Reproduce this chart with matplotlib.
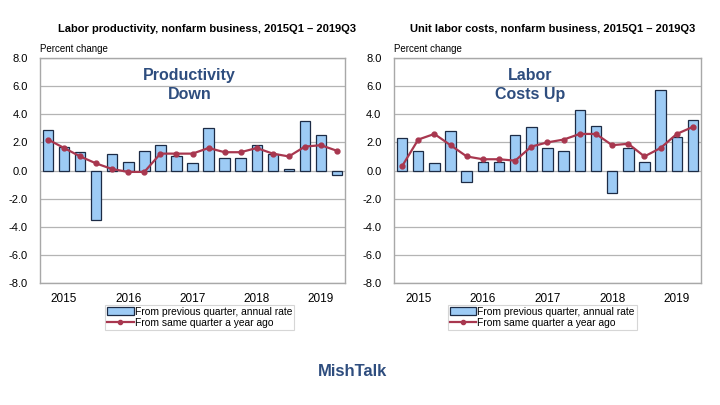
import matplotlib
matplotlib.use("Agg")
import matplotlib.pyplot as plt
from matplotlib.patches import Patch
from matplotlib.lines import Line2D

plt.rcParams["font.family"] = ["Liberation Sans", "DejaVu Sans"]

quarters = ["2015Q1", "2015Q2", "2015Q3", "2015Q4",
            "2016Q1", "2016Q2", "2016Q3", "2016Q4",
            "2017Q1", "2017Q2", "2017Q3", "2017Q4",
            "2018Q1", "2018Q2", "2018Q3", "2018Q4",
            "2019Q1", "2019Q2", "2019Q3"]
years = ["2015", "2016", "2017", "2018", "2019"]

prod_qoq = [2.9, 1.7, 1.3, -3.5, 1.2, 0.6, 1.4, 1.8, 1.0, 0.5,
            3.0, 0.9, 0.9, 1.8, 1.2, 0.1, 3.5, 2.5, -0.3]
prod_yoy = [2.2, 1.6, 1.0, 0.5, 0.1, -0.1, -0.1, 1.2, 1.2, 1.2,
            1.6, 1.3, 1.3, 1.6, 1.2, 1.0, 1.7, 1.8, 1.4]

ulc_qoq = [2.3, 1.4, 0.5, 2.8, -0.8, 0.6, 0.6, 2.5, 3.1, 1.6,
           1.4, 4.3, 3.2, -1.6, 1.6, 0.6, 5.7, 2.4, 3.6]
ulc_yoy = [0.3, 2.2, 2.6, 1.8, 1.0, 0.8, 0.8, 0.7, 1.7, 2.0,
           2.2, 2.6, 2.6, 1.8, 1.9, 1.0, 1.6, 2.6, 3.1]

bar_color = "#9dcbf5"
edge_color = "#1c2b45"
line_color = "#a8374f"
note_color = "#2e4d7e"
grid_color = "#b4b4b4"

fig = plt.figure(figsize=(7.2, 4.05), dpi=100)


def panel(rect, qoq, yoy, title, title_x, note, note_x, legend_box):
    ax = fig.add_axes(rect)
    x = list(range(len(quarters)))
    ax.bar(x, qoq, width=0.65, color=bar_color, edgecolor=edge_color,
           linewidth=0.9, zorder=2)
    ax.plot(x, yoy, color=line_color, linewidth=1.6, marker="o",
            markersize=3.5, zorder=3)
    ax.set_xlim(-0.5, len(quarters) - 0.5)
    ax.set_ylim(-8, 8)
    ax.set_yticks(range(-8, 9, 2))
    ax.set_yticklabels([f"{v:.1f}" for v in range(-8, 9, 2)], fontsize=8)
    ax.set_xticks([1, 5, 9, 13, 17])
    ax.set_xticklabels(years, fontsize=8.5)
    ax.tick_params(axis="both", length=0, pad=9)
    ax.tick_params(axis="x", pad=7)
    ax.grid(axis="y", color=grid_color, linewidth=0.9, zorder=0)
    for s in ax.spines.values():
        s.set_color("#a8a8a8")
        s.set_linewidth(1.0)
    fig.text(title_x, 0.928, title, fontsize=8, fontweight="bold",
             ha="center", va="center")
    fig.text(rect[0], 0.879, "Percent change", fontsize=7,
             ha="left", va="center")
    fig.text(note_x, 0.790, note, fontsize=11.5, fontweight="bold",
             color=note_color, ha="center", va="center", linespacing=1.3)
    handles = [Patch(facecolor=bar_color, edgecolor=edge_color, linewidth=0.9),
               Line2D([], [], color=line_color, linewidth=1.6, marker="o",
                      markersize=3)]
    leg = fig.legend(handles,
                     ["From previous quarter, annual rate",
                      "From same quarter a year ago"],
                     loc="center", bbox_to_anchor=legend_box, fontsize=7.4,
                     frameon=True, fancybox=False, borderpad=0.2,
                     labelspacing=0.1, handlelength=2.6, handletextpad=0.1,
                     handleheight=0.7, borderaxespad=0)
    leg.get_frame().set_edgecolor("#cccccc")
    leg.get_frame().set_linewidth(0.8)
    return ax


panel([0.0556, 0.3012, 0.4236, 0.5556], prod_qoq, prod_yoy,
      "Labor productivity, nonfarm business, 2015Q1 \u2013 2019Q3", 0.287,
      "Productivity\nDown", 0.263, (0.277, 0.217))
panel([0.5472, 0.3012, 0.4264, 0.5556], ulc_qoq, ulc_yoy,
      "Unit labor costs, nonfarm business, 2015Q1 \u2013 2019Q3", 0.768,
      "Labor\nCosts Up", 0.736, (0.753, 0.217))

fig.text(0.49, 0.082, "MishTalk", fontsize=12, fontweight="bold",
         color=note_color, ha="center", va="center")

plt.savefig("out.png", dpi=100)
plt.close()
